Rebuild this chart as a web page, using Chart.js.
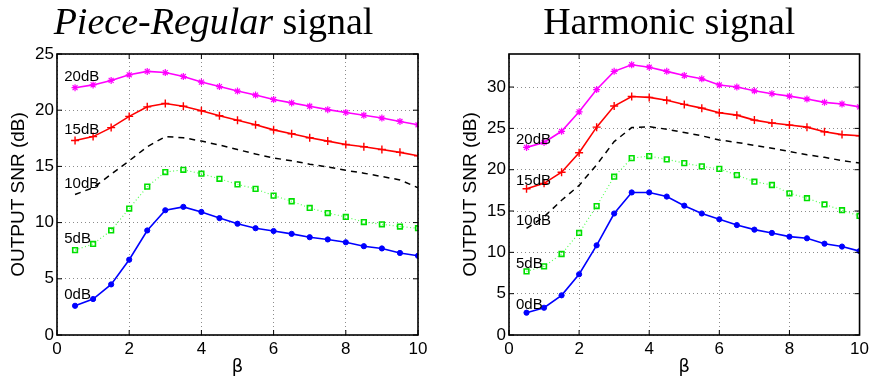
<!DOCTYPE html>
<html>
<head>
<meta charset="utf-8">
<script src="https://cdn.jsdelivr.net/npm/chart.js@4.4.0/dist/chart.umd.min.js"></script>
<style>
  body { margin: 0; background: #fff; width: 873px; height: 379px; overflow: hidden; position: relative; }
  .panel { position: absolute; top: 0; }
</style>
</head>
<body>
<div class="panel" style="left:0"><canvas id="left" width="452" height="379"></canvas></div>
<div class="panel" style="left:452px"><canvas id="right" width="421" height="379"></canvas></div>
<script>
// beta values (x axis)
const beta = [0.5, 1, 1.5, 2, 2.5, 3, 3.5, 4, 4.5, 5, 5.5, 6, 6.5, 7, 7.5, 8, 8.5, 9, 9.5, 10]
const noiseLabels = ['0dB', '5dB', '10dB', '15dB', '20dB']

// Piece-Regular signal, output SNR (dB)
const pr0dB  = [2.6, 3.2, 4.5, 6.7, 9.3, 11.1, 11.4, 10.95, 10.4, 9.9, 9.5, 9.25, 9.0, 8.7, 8.5, 8.25, 7.9, 7.7, 7.3, 7.05]
const pr5dB  = [7.55, 8.1, 9.3, 11.25, 13.2, 14.5, 14.7, 14.35, 13.9, 13.4, 13.0, 12.4, 11.9, 11.3, 10.85, 10.5, 10.05, 9.85, 9.65, 9.5]
const pr10dB = [12.5, 13.1, 14.3, 15.5, 16.75, 17.65, 17.55, 17.25, 16.9, 16.5, 16.1, 15.75, 15.5, 15.2, 14.95, 14.65, 14.4, 14.1, 13.8, 13.1]
const pr15dB = [17.3, 17.65, 18.45, 19.45, 20.3, 20.6, 20.35, 19.95, 19.5, 19.1, 18.7, 18.25, 17.9, 17.55, 17.25, 16.95, 16.75, 16.5, 16.25, 15.95]
const pr20dB = [22.0, 22.25, 22.65, 23.15, 23.45, 23.35, 23.0, 22.5, 22.1, 21.7, 21.35, 20.95, 20.65, 20.35, 20.05, 19.8, 19.55, 19.3, 19.0, 18.7]

// Harmonic signal, output SNR (dB)
const hr0dB  = [2.7, 3.3, 4.8, 7.35, 10.85, 14.7, 17.25, 17.25, 16.75, 15.65, 14.7, 14.0, 13.3, 12.75, 12.35, 11.9, 11.7, 11.05, 10.7, 10.15]
const hr5dB  = [7.7, 8.3, 9.8, 12.35, 15.6, 19.15, 21.4, 21.65, 21.25, 20.8, 20.4, 20.1, 19.35, 18.55, 18.15, 17.15, 16.55, 15.8, 15.1, 14.4]
const hr10dB = [12.9, 14.3, 16.3, 18.1, 20.6, 23.4, 25.1, 25.2, 24.9, 24.5, 24.1, 23.6, 23.3, 22.95, 22.6, 22.2, 21.8, 21.5, 21.1, 20.8]
const hr15dB = [17.7, 18.35, 19.7, 22.05, 25.15, 27.7, 28.85, 28.75, 28.4, 27.9, 27.45, 26.9, 26.6, 26.0, 25.65, 25.4, 25.15, 24.6, 24.25, 24.1]
const hr20dB = [22.7, 23.3, 24.65, 27.0, 29.7, 31.9, 32.7, 32.4, 31.9, 31.4, 31.0, 30.25, 30.0, 29.55, 29.2, 28.9, 28.55, 28.15, 27.95, 27.6]

const xTicksStep = 2
const yTicksStep = 5

function pts(vals) {
  return beta.map((b, i) => ({ x: b, y: vals[i] }))
}

function makeDatasets(series) {
  return [
    { label: noiseLabels[4], data: pts(series[4]), borderColor: '#ff00ff', backgroundColor: '#ff00ff',
      borderWidth: 1.6, pointStyle: 'star', pointRadius: 3.5, pointBorderWidth: 1.2 },
    { label: noiseLabels[3], data: pts(series[3]), borderColor: '#ff0000', backgroundColor: '#ff0000',
      borderWidth: 1.6, pointStyle: 'cross', pointRadius: 4, pointBorderWidth: 1.4 },
    { label: noiseLabels[2], data: pts(series[2]), borderColor: '#000', borderWidth: 1.5,
      borderDash: [6, 5], pointRadius: 0 },
    { label: noiseLabels[1], data: pts(series[1]), borderColor: '#55ff55', borderWidth: 1.2,
      borderDash: [1, 2.5], pointStyle: 'rect', pointRadius: 3.3, pointBorderColor: '#00e000',
      pointBackgroundColor: 'rgba(0,0,0,0)', pointBorderWidth: 1.6 },
    { label: noiseLabels[0], data: pts(series[0]), borderColor: '#0000ff', backgroundColor: '#0000ff',
      borderWidth: 1.6, pointStyle: 'circle', pointRadius: 2.6, pointBorderWidth: 1 }
  ]
}

// black frame with small inward ticks, matlab style
const boxPlugin = {
  id: 'box',
  afterDraw(chart) {
    const { ctx, chartArea: a, scales: { x, y } } = chart
    ctx.save()
    ctx.strokeStyle = '#000'
    ctx.lineWidth = 1
    ctx.beginPath()
    x.ticks.forEach(t => {
      const px = x.getPixelForValue(t.value)
      ctx.moveTo(px, a.bottom); ctx.lineTo(px, a.bottom - 5)
      ctx.moveTo(px, a.top); ctx.lineTo(px, a.top + 5)
    })
    y.ticks.forEach(t => {
      const py = y.getPixelForValue(t.value)
      ctx.moveTo(a.left, py); ctx.lineTo(a.left + 5, py)
      ctx.moveTo(a.right, py); ctx.lineTo(a.right - 5, py)
    })
    ctx.stroke()
    ctx.lineWidth = 1.6
    ctx.strokeRect(a.left, a.top, a.right - a.left, a.bottom - a.top)
    ctx.restore()
  }
}

// "0dB", "5dB"... next to the start of each curve
const curveLabels = {
  id: 'curveLabels',
  afterDatasetsDraw(chart, args, opts) {
    const { ctx, scales: { x, y } } = chart
    ctx.save()
    ctx.font = '15px "Liberation Sans", Arial, sans-serif'
    ctx.fillStyle = '#000'
    ctx.textBaseline = 'middle'
    chart.data.datasets.forEach(ds => {
      const px = x.getPixelForValue(opts.x)
      const py = y.getPixelForValue(ds.data[0].y) - opts.dy
      ctx.fillText(ds.label, px, py)
    })
    ctx.restore()
  }
}

// title with an italic part
const sigTitle = {
  id: 'sigTitle',
  afterDraw(chart, args, opts) {
    const { ctx, chartArea: a } = chart
    const font = p => (p.italic ? 'italic ' : '') + '38px "Liberation Serif", "Times New Roman", serif'
    ctx.save()
    ctx.fillStyle = '#000'
    ctx.textBaseline = 'alphabetic'
    let total = 0
    opts.parts.forEach(p => {
      ctx.font = font(p)
      total += ctx.measureText(p.text).width
    })
    let px = (a.left + a.right) / 2 + opts.shift - total / 2
    opts.parts.forEach(p => {
      ctx.font = font(p)
      ctx.fillText(p.text, px, 34)
      px += ctx.measureText(p.text).width
    })
    ctx.restore()
  }
}

const tickFont = { family: '"Liberation Sans", Arial, sans-serif', size: 17 }

function makeChart(canvas, series, yMax, rightPad, title, shift, labelDy) {
  return new Chart(canvas, {
    type: 'line',
    data: { datasets: makeDatasets(series) },
    options: {
      responsive: false,
      animation: false,
      devicePixelRatio: 1,
      layout: { padding: { left: 0, right: rightPad, top: 54, bottom: 0 } },
      plugins: {
        legend: { display: false },
        tooltip: { enabled: false },
        curveLabels: { x: 0.2, dy: labelDy },
        sigTitle: { parts: title, shift: shift }
      },
      scales: {
        x: {
          type: 'linear', min: 0, max: 10,
          ticks: { stepSize: xTicksStep, color: '#000', font: tickFont, padding: 4, maxRotation: 0 },
          grid: { color: 'rgba(0,0,0,0.45)', lineWidth: 1, drawTicks: false, borderDash: [1, 3] },
          border: { display: false, dash: [1, 3] },
          title: { display: true, text: 'β', color: '#000', padding: { top: 0, bottom: 1 },
                   font: { family: '"DejaVu Sans", sans-serif', size: 18 } },
          afterFit: s => { s.height = 44 }
        },
        y: {
          min: 0, max: yMax,
          ticks: { stepSize: yTicksStep, color: '#000', font: tickFont, padding: 3 },
          afterBuildTicks: s => { s.ticks = s.ticks.filter(t => t.value % yTicksStep === 0) },
          grid: { color: 'rgba(0,0,0,0.45)', lineWidth: 1, drawTicks: false, borderDash: [1, 3] },
          border: { display: false, dash: [1, 3] },
          title: { display: true, text: 'OUTPUT SNR (dB)', color: '#000', padding: { top: 7, bottom: 0 },
                   font: { family: '"Liberation Sans", Arial, sans-serif', size: 19 } },
          afterFit: s => { s.width = 57 }
        }
      }
    },
    plugins: [curveLabels, boxPlugin, sigTitle]
  })
}

makeChart(document.getElementById('left'), [pr0dB, pr5dB, pr10dB, pr15dB, pr20dB], 25, 34,
  [{ text: 'Piece-Regular', italic: true }, { text: ' signal' }], -24, 11)
makeChart(document.getElementById('right'), [hr0dB, hr5dB, hr10dB, hr15dB, hr20dB], 34, 8,
  [{ text: 'Harmonic signal' }], -15, 8)
</script>
</body>
</html>
